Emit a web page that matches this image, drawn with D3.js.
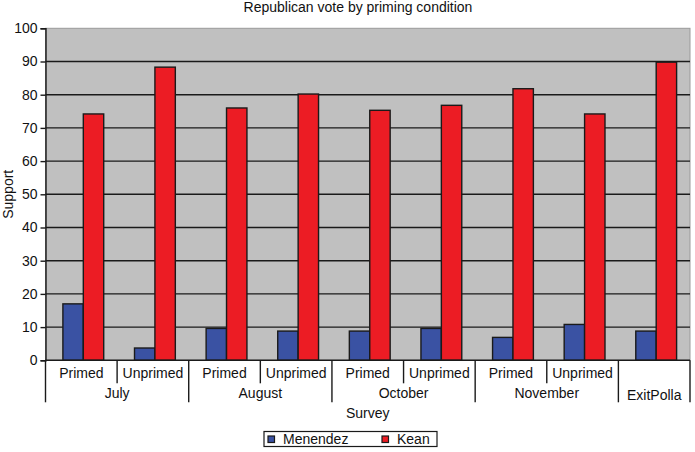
<!DOCTYPE html>
<html>
<head>
<meta charset="utf-8">
<script src="https://cdn.jsdelivr.net/npm/d3@7"></script>
<style>
  body { margin: 0; background: #fff; }
  text { font-family: "Liberation Sans", Arial, sans-serif; fill: #111; }
</style>
</head>
<body>
<svg id="chart" width="695" height="452"></svg>
<script>
// chart values
const months = ['July', 'August', 'October', 'November', 'ExitPolla']
const conditions = ['Primed', 'Unprimed', 'Primed', 'Unprimed', 'Primed', 'Unprimed', 'Primed', 'Unprimed', '']
const groupOf = ['July', 'July', 'August', 'August', 'October', 'October', 'November', 'November', 'ExitPolla']
const menendez = [17, 3.7, 9.6, 8.8, 8.8, 9.6, 6.9, 10.8, 8.8]
const kean = [74.2, 88.3, 76, 80.2, 75.3, 76.8, 81.8, 74.2, 89.8]
const seriesNames = ['Menendez', 'Kean']
const yTicks = [0, 10, 20, 30, 40, 50, 60, 70, 80, 90, 100]

const colors = { Menendez: '#3a52a3', Kean: '#ec1c24' }

const margin = { top: 28.3, right: 5, bottom: 91.7, left: 45.5 }
const width = 695 - (margin.left + margin.right)
const height = 452 - (margin.top + margin.bottom)

const svg = d3.select('#chart')

const data = conditions.map((c, i) => ({
  key: i,
  condition: c,
  group: groupOf[i],
  Menendez: menendez[i],
  Kean: kean[i]
}))

const xScale = d3.scaleBand()
  .domain(data.map(d => d.key))
  .range([margin.left, margin.left + width])
  .padding(0)

const bw = xScale.bandwidth()
const cluster = bw * 0.57
const xInner = d3.scaleBand()
  .domain(seriesNames)
  .range([(bw - cluster) / 2 + 2, (bw + cluster) / 2 + 2])

const yScale = d3.scaleLinear()
  .domain([0, 100])
  .range([margin.top + height, margin.top])

// plot background
svg.append('rect')
  .attr('x', margin.left)
  .attr('y', margin.top)
  .attr('width', width)
  .attr('height', height)
  .attr('fill', '#c0c0c0')
  .attr('stroke', '#9a9a9a')
  .attr('stroke-width', 1)

// gridlines
svg.append('g')
  .selectAll('line')
  .data(yTicks.filter(t => t > 0 && t < 100))
  .join('line')
  .attr('x1', margin.left)
  .attr('x2', margin.left + width)
  .attr('y1', d => yScale(d))
  .attr('y2', d => yScale(d))
  .attr('stroke', '#1a1a1a')
  .attr('stroke-width', 1.4)

// bars
const groups = svg.append('g')
  .selectAll('g')
  .data(data)
  .join('g')
  .attr('transform', d => `translate(${xScale(d.key)},0)`)

groups.selectAll('rect')
  .data(d => seriesNames.map(s => ({ s, v: d[s] })))
  .join('rect')
  .attr('x', d => xInner(d.s))
  .attr('width', xInner.bandwidth())
  .attr('y', d => yScale(d.v))
  .attr('height', d => yScale(0) - yScale(d.v))
  .attr('fill', d => colors[d.s])
  .attr('stroke', '#1a1a1a')
  .attr('stroke-width', 1.4)

// y axis
const leftAxis = d3.axisLeft(yScale)
  .tickValues(yTicks)
  .tickSize(5)
  .tickPadding(3)

const yAxis = svg.append('g')
  .attr('transform', `translate(${margin.left}, 0)`)
  .call(leftAxis)
yAxis.select('.domain').attr('stroke', '#1a1a1a').attr('stroke-width', 1.4)
yAxis.selectAll('.tick line').attr('stroke', '#1a1a1a').attr('stroke-width', 1.4)
yAxis.selectAll('.tick text')
  .style('font-family', '"Liberation Sans", Arial, sans-serif')
  .style('font-size', '14px')
  .attr('fill', '#111')

// x axis: multi-level category labels
const base = yScale(0)
const xAxis = svg.append('g')

xAxis.append('line')
  .attr('x1', margin.left)
  .attr('x2', margin.left + width)
  .attr('y1', base)
  .attr('y2', base)
  .attr('stroke', '#1a1a1a')
  .attr('stroke-width', 1.4)

// sub-category labels
xAxis.selectAll('.cond')
  .data(data)
  .join('text')
  .attr('class', 'cond')
  .attr('x', d => xScale(d.key) + bw / 2)
  .attr('y', base + 18)
  .attr('text-anchor', 'middle')
  .style('font-size', '14px')
  .text(d => d.condition)

// separators between conditions inside a month
xAxis.selectAll('.subsep')
  .data(data.filter((d, i) => i > 0 && groupOf[i - 1] === d.group))
  .join('line')
  .attr('class', 'subsep')
  .attr('x1', d => xScale(d.key))
  .attr('x2', d => xScale(d.key))
  .attr('y1', base)
  .attr('y2', base + 23)
  .attr('stroke', '#1a1a1a')
  .attr('stroke-width', 1.4)

// month groups
const monthSpans = months.map(m => {
  const idx = data.filter(d => d.group === m).map(d => d.key)
  return { m, x0: xScale(d3.min(idx)), x1: xScale(d3.max(idx)) + bw, single: idx.length === 1 }
})

const edges = [monthSpans[0].x0].concat(monthSpans.map(s => s.x1))
xAxis.selectAll('.grpsep')
  .data(edges)
  .join('line')
  .attr('class', 'grpsep')
  .attr('x1', d => d)
  .attr('x2', d => d)
  .attr('y1', base)
  .attr('y2', base + 42)
  .attr('stroke', '#1a1a1a')
  .attr('stroke-width', 1.4)

xAxis.selectAll('.month')
  .data(monthSpans)
  .join('text')
  .attr('class', 'month')
  .attr('x', d => (d.x0 + d.x1) / 2)
  .attr('y', d => d.single ? base + 40 : base + 38)
  .attr('text-anchor', 'middle')
  .style('font-size', '14px')
  .text(d => d.m)

// axis titles
svg.append('text')
  .attr('x', margin.left + width / 2)
  .attr('y', base + 58)
  .attr('text-anchor', 'middle')
  .style('font-size', '14px')
  .text('Survey')

svg.append('text')
  .attr('transform', `translate(13, ${margin.top + height / 2}) rotate(-90)`)
  .attr('text-anchor', 'middle')
  .style('font-size', '14px')
  .text('Support')

svg.append('text')
  .attr('x', 358)
  .attr('y', 12)
  .attr('text-anchor', 'middle')
  .style('font-size', '14px')
  .text('Republican vote by priming condition')

// legend
const legend = svg.append('g').attr('transform', 'translate(264, 431.5)')
legend.append('rect')
  .attr('width', 173)
  .attr('height', 15)
  .attr('fill', '#fff')
  .attr('stroke', '#1a1a1a')
  .attr('stroke-width', 1.2)

const legendX = d3.scaleOrdinal().domain(seriesNames).range([4, 118])
const items = legend.selectAll('.item')
  .data(seriesNames)
  .join('g')
  .attr('class', 'item')
  .attr('transform', d => `translate(${legendX(d)}, 0)`)
items.append('rect')
  .attr('y', 4.5)
  .attr('width', 6.5)
  .attr('height', 6.5)
  .attr('fill', d => colors[d])
  .attr('stroke', '#1a1a1a')
  .attr('stroke-width', 1.2)
items.append('text')
  .attr('x', 15)
  .attr('y', 12.5)
  .style('font-size', '14px')
  .text(d => d)
</script>
</body>
</html>
